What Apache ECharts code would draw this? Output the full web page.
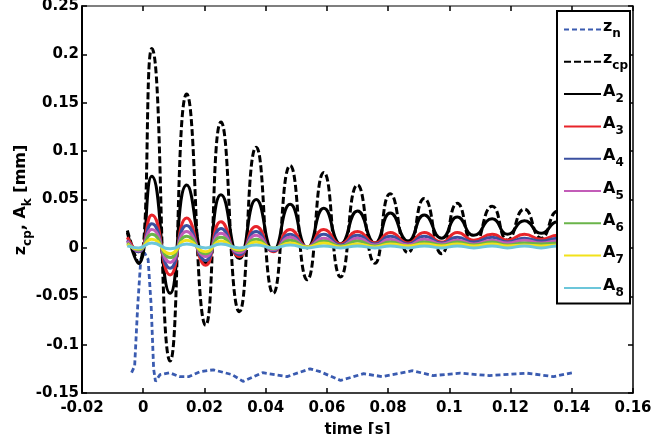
<!DOCTYPE html>
<html lang="en">
<head>
<meta charset="UTF-8">
<title>zcp and Ak</title>
<script src="https://cdn.jsdelivr.net/npm/echarts@6/dist/echarts.min.js"></script>
<style>
  html, body { margin: 0; padding: 0; background: #fff; }
</style>
</head>
<body>
<div id="main" style="width: 653px;height:434px;"></div>
<script>
// time points (s) shared by z_cp and A_k (extrema of the oscillation)
var t = [-0.0052, -0.0015, 0.0028, 0.0088, 0.0142, 0.0204, 0.0254, 0.0314, 0.0369, 0.0425,
         0.0480, 0.0536, 0.0590, 0.0645, 0.0700, 0.0757, 0.0807, 0.0865, 0.0918, 0.0975,
         0.1026, 0.1080, 0.1140, 0.1190, 0.1245, 0.1300, 0.1355, 0.1400];
var zcp = [0.018, -0.016, 0.206, -0.117, 0.159, -0.080, 0.130, -0.066, 0.104, -0.047,
           0.085, -0.033, 0.078, -0.030, 0.065, -0.016, 0.056, -0.005, 0.051, -0.006,
           0.046, 0.003, 0.043, 0.008, 0.040, 0.010, 0.038, 0.020];
var a2 = [0.016, -0.016, 0.074, -0.047, 0.065, -0.016, 0.055, -0.011, 0.050, -0.003,
          0.045, 0.000, 0.041, 0.004, 0.038, 0.005, 0.036, 0.007, 0.034, 0.010,
          0.032, 0.013, 0.030, 0.014, 0.028, 0.015, 0.027, 0.020];
var a3 = [0.011, -0.004, 0.034, -0.028, 0.031, -0.018, 0.027, -0.009, 0.022, -0.004,
          0.019, 0.001, 0.019, 0.004, 0.017, 0.005, 0.016, 0.005, 0.016, 0.006,
          0.016, 0.008, 0.014, 0.008, 0.014, 0.009, 0.013, 0.011];
var a4 = [0.008, -0.004, 0.025, -0.021, 0.023, -0.013, 0.020, -0.007, 0.017, -0.003,
          0.014, 0.001, 0.014, 0.003, 0.013, 0.004, 0.012, 0.004, 0.012, 0.005,
          0.011, 0.006, 0.011, 0.006, 0.010, 0.007, 0.010, 0.008];
var a5 = [0.007, -0.003, 0.019, -0.015, 0.017, -0.009, 0.015, -0.005, 0.013, -0.002,
          0.011, 0.001, 0.010, 0.002, 0.010, 0.003, 0.009, 0.003, 0.009, 0.004,
          0.008, 0.004, 0.008, 0.005, 0.008, 0.005, 0.007, 0.006];
var a6 = [0.005, -0.002, 0.014, -0.010, 0.012, -0.006, 0.011, -0.003, 0.009, -0.001,
          0.008, 0.001, 0.007, 0.002, 0.007, 0.002, 0.006, 0.002, 0.006, 0.003,
          0.006, 0.003, 0.006, 0.003, 0.005, 0.004, 0.005, 0.004];
var a7 = [0.004, -0.001, 0.009, -0.006, 0.008, -0.004, 0.007, -0.002, 0.006, 0.000,
          0.005, 0.001, 0.005, 0.001, 0.004, 0.001, 0.004, 0.002, 0.004, 0.002,
          0.004, 0.002, 0.004, 0.002, 0.003, 0.002, 0.003, 0.003];
var a8 = [0.002, 0.000, 0.005, -0.001, 0.004, 0.000, 0.004, 0.000, 0.003, 0.000,
          0.003, 0.000, 0.002, 0.000, 0.002, 0.000, 0.002, 0.000, 0.002, 0.000,
          0.002, 0.000, 0.002, 0.000, 0.002, 0.000, 0.002, 0.000];

// z_n has its own time points
var tn = [-0.0038, -0.0028, -0.0018, -0.0008, 0.0004, 0.0016, 0.0026, 0.0034, 0.0040, 0.0055,
          0.0086, 0.0118, 0.0150, 0.0186, 0.0229, 0.0290, 0.0326, 0.0390, 0.0470, 0.0545,
          0.0578, 0.0645, 0.0720, 0.0780, 0.0880, 0.0947, 0.1035, 0.1130, 0.1253, 0.1340, 0.1405];
var zn = [-0.129, -0.122, -0.060, -0.012, -0.005, -0.012, -0.060, -0.125, -0.138, -0.131,
          -0.129, -0.133, -0.133, -0.128, -0.126, -0.131, -0.138, -0.129, -0.133, -0.125,
          -0.128, -0.137, -0.130, -0.133, -0.127, -0.132, -0.1295, -0.132, -0.1295, -0.133, -0.129];

var xTicks = [-0.02, 0.16, 0.02];
var yTicks = [-0.15, 0.25, 0.05];

var names = ['zn', 'zcp', 'A2', 'A3', 'A4', 'A5', 'A6', 'A7', 'A8'];
var colors = ['#3a5bb0', '#000000', '#000000', '#e8242a', '#3b50a0', '#c35cb8', '#6ab44a', '#f2e21a', '#6cc6da'];

function pairs(xs, ys) {
    return xs.map(function (x, i) { return [x, ys[i]]; });
}

var myChart = echarts.init(document.getElementById('main'));
var fontFam = 'DejaVu Sans';
function richSet(size, sub) {
    return {
        m: { fontFamily: fontFam, fontWeight: 'bold', fontSize: size, color: '#000', verticalAlign: 'top', padding: [0, 0, 0, 0] },
        s: { fontFamily: fontFam, fontWeight: 'bold', fontSize: sub, color: '#000', verticalAlign: 'bottom', padding: [Math.round(size * 0.55), 0, 0, 0] }
    };
}

var allA = [a2, a3, a4, a5, a6, a7, a8];
var series = [
    {
        name: 'zn', type: 'line', data: pairs(tn, zn), showSymbol: false, symbol: 'none',
        lineStyle: { color: colors[0], width: 2.8, type: [5, 3] }, itemStyle: { color: colors[0] }
    },
    {
        name: 'zcp', type: 'line', data: pairs(t, zcp), showSymbol: false, symbol: 'none', smooth: 0.55,
        lineStyle: { color: colors[1], width: 3, type: [7, 3] }, itemStyle: { color: colors[1] }
    }
];
allA.forEach(function (arr, i) {
    series.push({
        name: names[i + 2], type: 'line', data: pairs(t, arr), showSymbol: false, symbol: 'none', smooth: 0.55,
        lineStyle: { color: colors[i + 2], width: 3 }, itemStyle: { color: colors[i + 2] }
    });
});

var option = {
    animation: false,
    grid: { left: 82, top: 6, right: 20, bottom: 41, containLabel: false, outerBoundsMode: 'none' },
    // y-axis title drawn as rotated rich text
    graphic: [{
        type: 'text', x: 23, y: 200, rotation: Math.PI / 2,
        style: {
            text: '{m|z}{s|cp}{m|, A}{s|k}{m| [mm]}',
            rich: richSet(16, 12), align: 'center', verticalAlign: 'middle'
        }
    }],
    legend: {
        orient: 'vertical',
        left: 557, top: 11,
        padding: [8, 2, 5, 6],
        borderColor: '#000', borderWidth: 2,
        backgroundColor: '#fff',
        itemWidth: 37, itemHeight: 14, itemGap: 11.3,
        itemStyle: { opacity: 0 },
        data: names,
        formatter: function (n) {
            if (n === 'zn') return '{m|z}{s|n}';
            if (n === 'zcp') return '{m|z}{s|cp}';
            return '{m|A}{s|' + n.slice(1) + '}';
        },
        textStyle: { padding: [0, 0, 0, -3], rich: richSet(16, 12) }
    },
    xAxis: [{
        type: 'value', min: xTicks[0], max: xTicks[1], interval: xTicks[2],
        name: 'time [s]', nameLocation: 'middle', nameGap: 30,
        nameTextStyle: { fontFamily: fontFam, fontWeight: 'bold', fontSize: 15, color: '#000' },
        axisLine: { onZero: false, lineStyle: { color: '#000', width: 1.5 } },
        axisTick: { inside: true, length: 5, lineStyle: { color: '#000', width: 1.5 } },
        axisLabel: { margin: 8, fontFamily: fontFam, fontWeight: 'bold', fontSize: 15, color: '#000',
            formatter: function (v) { return String(+v.toFixed(2)); } },
        splitLine: { show: false }
    }, {
        type: 'value', position: 'top', min: xTicks[0], max: xTicks[1], interval: xTicks[2],
        axisLine: { onZero: false, lineStyle: { color: '#555', width: 1.5 } },
        axisTick: { inside: true, length: 5, lineStyle: { color: '#000', width: 1.5 } },
        axisLabel: { show: false }, splitLine: { show: false }
    }],
    yAxis: [{
        type: 'value', min: yTicks[0], max: yTicks[1], interval: yTicks[2],
        axisLine: { onZero: false, lineStyle: { color: '#000', width: 2 } },
        axisTick: { inside: true, length: 5, lineStyle: { color: '#000', width: 1.5 } },
        axisLabel: { margin: 3, fontFamily: fontFam, fontWeight: 'bold', fontSize: 15, color: '#000',
            formatter: function (v) { return String(+v.toFixed(2)); } },
        splitLine: { show: false }
    }, {
        type: 'value', position: 'right', min: yTicks[0], max: yTicks[1], interval: yTicks[2],
        axisLine: { onZero: false, lineStyle: { color: '#000', width: 1.5 } },
        axisTick: { inside: true, length: 5, lineStyle: { color: '#000', width: 1.5 } },
        axisLabel: { show: false }, splitLine: { show: false }
    }],
    series: series
};
myChart.setOption(option);
</script>
</body>
</html>
